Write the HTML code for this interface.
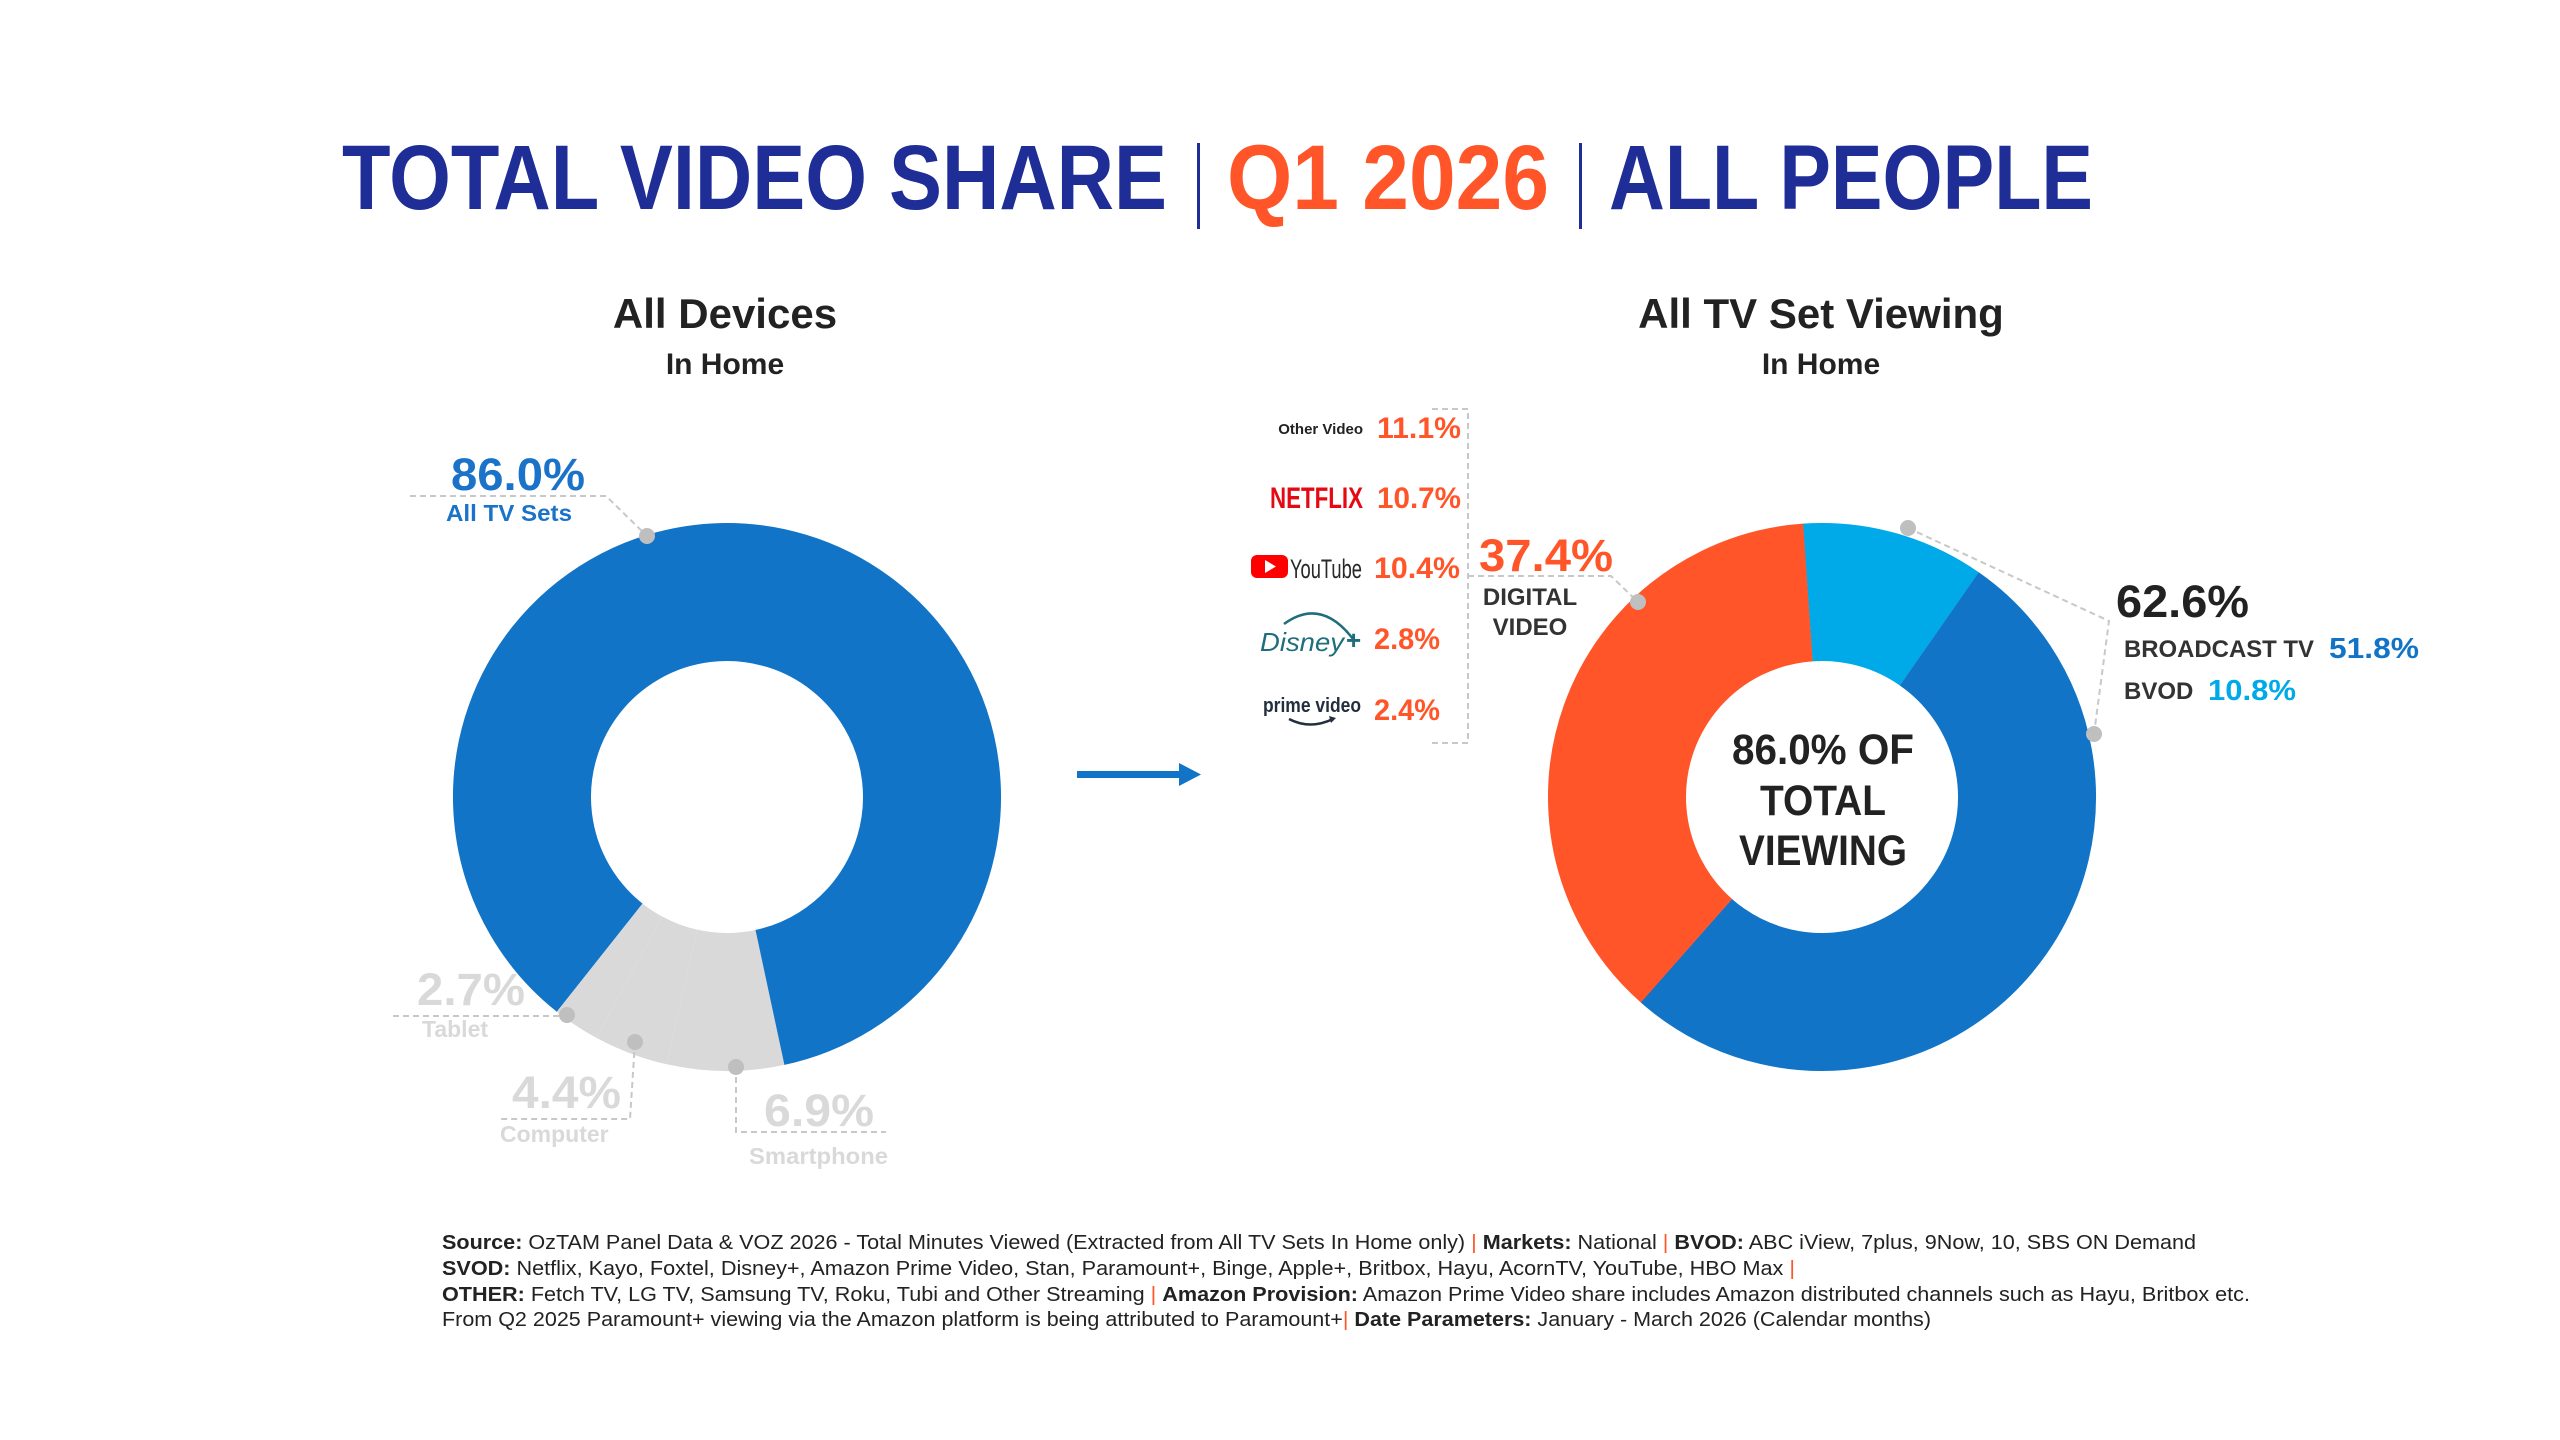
<!DOCTYPE html>
<html><head><meta charset="utf-8">
<style>
html,body{margin:0;padding:0;background:#fff;}
svg{display:block;}
text{font-family:"Liberation Sans",sans-serif;}
</style></head>
<body>
<svg width="2560" height="1440" viewBox="0 0 2560 1440" xmlns="http://www.w3.org/2000/svg">
<rect width="2560" height="1440" fill="#fff"/>
<!-- Title -->
<g font-weight="bold" font-size="92">
<text x="342" y="209" fill="#1F2D96" textLength="825" lengthAdjust="spacingAndGlyphs">TOTAL VIDEO SHARE</text>
<text x="1227" y="209" fill="#FF5528" textLength="322" lengthAdjust="spacingAndGlyphs">Q1 2026</text>
<text x="1609" y="209" fill="#1F2D96" textLength="484" lengthAdjust="spacingAndGlyphs">ALL PEOPLE</text>
</g>
<rect x="1197" y="143" width="3" height="86" fill="#1F2D96"/>
<rect x="1579" y="143" width="3" height="86" fill="#1F2D96"/>

<!-- subtitles -->
<g font-weight="bold" fill="#222" text-anchor="middle">
<text x="725" y="328" font-size="42">All Devices</text>
<text x="725" y="374" font-size="30">In Home</text>
<text x="1821" y="328" font-size="42">All TV Set Viewing</text>
<text x="1821" y="374" font-size="30">In Home</text>
</g>

<!-- Left donut -->
<g transform="translate(727,797)" fill="none" stroke-width="138">
<circle r="205" stroke="#1174C7" stroke-dasharray="1107.4 2000" transform="rotate(128.4)"/>
<circle r="205" stroke="#D9D9D9" stroke-dasharray="88.7 2000" transform="rotate(77.9)"/>
<circle r="205" stroke="#D9D9D9" stroke-dasharray="56.5 2000" transform="rotate(102.7)"/>
<circle r="205" stroke="#D9D9D9" stroke-dasharray="35.4 2000" transform="rotate(118.5)"/>
</g>
<!-- left labels -->
<g stroke="#C8C8C8" stroke-width="2" stroke-dasharray="6 4" fill="none">
<polyline points="410,496 606,496 647,536"/>
<polyline points="393,1016 567,1016"/>
<polyline points="635,1042 630,1119 500,1119"/>
<polyline points="736,1067 736,1132 886,1132"/>
</g>
<g fill="#BFBFBF">
<circle cx="647" cy="536" r="8"/>
<circle cx="567" cy="1015" r="8"/>
<circle cx="635" cy="1042" r="8"/>
<circle cx="736" cy="1067" r="8"/>
</g>
<g font-weight="bold">
<text x="451" y="490" font-size="45" fill="#1A73C9" textLength="134" lengthAdjust="spacingAndGlyphs">86.0%</text>
<text x="446" y="521" font-size="23" fill="#1A73C9" textLength="126" lengthAdjust="spacingAndGlyphs">All TV Sets</text>
<text x="417" y="1005" font-size="45" fill="#D9D9D9" textLength="108" lengthAdjust="spacingAndGlyphs">2.7%</text>
<text x="422" y="1037" font-size="23" fill="#D9D9D9">Tablet</text>
<text x="512" y="1108" font-size="45" fill="#D9D9D9" textLength="109" lengthAdjust="spacingAndGlyphs">4.4%</text>
<text x="500" y="1142" font-size="23" fill="#D9D9D9">Computer</text>
<text x="764" y="1126" font-size="45" fill="#D9D9D9" textLength="110" lengthAdjust="spacingAndGlyphs">6.9%</text>
<text x="749" y="1164" font-size="23" fill="#D9D9D9" textLength="139" lengthAdjust="spacingAndGlyphs">Smartphone</text>
</g>

<!-- arrow -->
<rect x="1077" y="771" width="108" height="7" fill="#1174C7"/>
<polygon points="1179,763 1201,774.5 1179,786" fill="#1174C7"/>

<!-- Right donut -->
<g transform="translate(1822,797)" fill="none" stroke-width="138">
<circle r="205" stroke="#00A9E8" stroke-dasharray="139.2 2000" transform="rotate(-94)"/>
<circle r="205" stroke="#1174C7" stroke-dasharray="667.3 2000" transform="rotate(-55.1)"/>
<circle r="205" stroke="#FF5528" stroke-dasharray="481.6 2000" transform="rotate(131.4)"/>
</g>
<g font-weight="bold" font-size="43" fill="#222" text-anchor="middle">
<text x="1823" y="764" textLength="182" lengthAdjust="spacingAndGlyphs">86.0% OF</text>
<text x="1823" y="815" textLength="126" lengthAdjust="spacingAndGlyphs">TOTAL</text>
<text x="1823" y="865" textLength="168" lengthAdjust="spacingAndGlyphs">VIEWING</text>
</g>

<!-- right connectors -->
<g stroke="#C8C8C8" stroke-width="2" stroke-dasharray="6 4" fill="none">
<polyline points="1432,409 1468,409 1468,743 1432,743"/>
<polyline points="1468,576 1611,576 1638,602"/>
<polyline points="1908,528 2109,621 2094,734"/>
</g>
<g fill="#BFBFBF">
<circle cx="1638" cy="602" r="8"/>
<circle cx="1908" cy="528" r="8"/>
<circle cx="2094" cy="734" r="8"/>
</g>
<g font-weight="bold">
<text x="1479" y="571" font-size="45" fill="#FF5528" textLength="134" lengthAdjust="spacingAndGlyphs">37.4%</text>
<text x="1530" y="605" font-size="24" fill="#333" text-anchor="middle">DIGITAL</text>
<text x="1530" y="635" font-size="24" fill="#333" text-anchor="middle">VIDEO</text>
<text x="2116" y="617" font-size="45" fill="#222" textLength="133" lengthAdjust="spacingAndGlyphs">62.6%</text>
<text x="2124" y="657" font-size="24" fill="#333" textLength="190" lengthAdjust="spacingAndGlyphs">BROADCAST TV</text>
<text x="2329" y="658" font-size="29" fill="#1174C7" textLength="90" lengthAdjust="spacingAndGlyphs">51.8%</text>
<text x="2124" y="699" font-size="24" fill="#333">BVOD</text>
<text x="2208" y="700" font-size="29" fill="#00A9E8" textLength="88" lengthAdjust="spacingAndGlyphs">10.8%</text>
</g>

<!-- digital list -->
<g font-weight="bold" font-size="30" fill="#FF5528">
<text x="1377" y="438" textLength="84" lengthAdjust="spacingAndGlyphs">11.1%</text>
<text x="1377" y="508" textLength="84" lengthAdjust="spacingAndGlyphs">10.7%</text>
<text x="1374" y="578" textLength="86" lengthAdjust="spacingAndGlyphs">10.4%</text>
<text x="1374" y="649" textLength="66" lengthAdjust="spacingAndGlyphs">2.8%</text>
<text x="1374" y="720" textLength="66" lengthAdjust="spacingAndGlyphs">2.4%</text>
</g>
<text x="1363" y="434" font-size="15" font-weight="bold" fill="#222" text-anchor="end">Other Video</text>
<text x="1363" y="508" font-size="30" font-weight="bold" fill="#E50914" text-anchor="end" textLength="93" lengthAdjust="spacingAndGlyphs">NETFLIX</text>
<!-- YouTube -->
<rect x="1251" y="555" width="37" height="23" rx="6" fill="#FF0000"/>
<polygon points="1265,560 1276,566.5 1265,573" fill="#fff"/>
<text x="1290" y="578" font-size="27" fill="#282828" textLength="72" lengthAdjust="spacingAndGlyphs">YouTube</text>
<!-- Disney+ -->
<path d="M1284,624 Q1321,597 1353,639" fill="none" stroke="#1E6E7C" stroke-width="2.5"/>
<text x="1260" y="651" font-size="26" fill="#1E6E7C" font-family="Liberation Serif,serif" font-style="italic" textLength="84" lengthAdjust="spacingAndGlyphs">Disney</text>
<text x="1346" y="649" font-size="26" fill="#1E6E7C" font-weight="bold">+</text>
<!-- prime video -->
<text x="1263" y="712" font-size="20" font-weight="bold" fill="#232F3E" textLength="98" lengthAdjust="spacingAndGlyphs">prime video</text>
<path d="M1289,719 Q1310,730 1333,719" fill="none" stroke="#232F3E" stroke-width="2.5"/>
<polygon points="1329,716 1336,718 1331,723" fill="#232F3E"/>

<!-- footer -->
<g font-size="20" fill="#222">
<text x="442" y="1249" textLength="1754" lengthAdjust="spacingAndGlyphs"><tspan font-weight="bold">Source:</tspan> OzTAM Panel Data &amp; VOZ 2026 - Total Minutes Viewed (Extracted from All TV Sets In Home only) <tspan fill="#FF5528">|</tspan> <tspan font-weight="bold">Markets:</tspan> National <tspan fill="#FF5528">|</tspan> <tspan font-weight="bold">BVOD:</tspan> ABC iView, 7plus, 9Now, 10, SBS ON Demand</text>
<text x="442" y="1275" textLength="1353" lengthAdjust="spacingAndGlyphs"><tspan font-weight="bold">SVOD:</tspan> Netflix, Kayo, Foxtel, Disney+, Amazon Prime Video, Stan, Paramount+, Binge, Apple+, Britbox, Hayu, AcornTV, YouTube, HBO Max <tspan fill="#FF5528">|</tspan></text>
<text x="442" y="1301" textLength="1808" lengthAdjust="spacingAndGlyphs"><tspan font-weight="bold">OTHER:</tspan> Fetch TV, LG TV, Samsung TV, Roku, Tubi and Other Streaming <tspan fill="#FF5528">|</tspan> <tspan font-weight="bold">Amazon Provision:</tspan> Amazon Prime Video share includes Amazon distributed channels such as Hayu, Britbox etc.</text>
<text x="442" y="1326" textLength="1489" lengthAdjust="spacingAndGlyphs">From Q2 2025 Paramount+ viewing via the Amazon platform is being attributed to Paramount+<tspan fill="#FF5528">|</tspan> <tspan font-weight="bold">Date Parameters:</tspan> January - March 2026 (Calendar months)</text>
</g>
</svg>
</body></html>
